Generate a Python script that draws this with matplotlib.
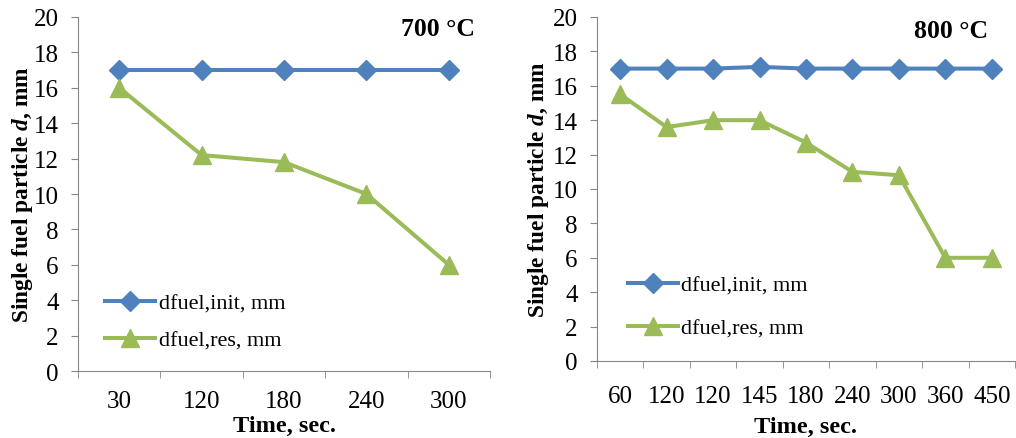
import matplotlib.pyplot as plt

plt.rcParams['font.family'] = 'Liberation Serif'
plt.rcParams['mathtext.fontset'] = 'custom'
plt.rcParams['mathtext.it'] = 'Liberation Serif:bold:italic'
plt.rcParams['mathtext.rm'] = 'Liberation Serif:bold'

# data
time_700 = ['30', '120', '180', '240', '300']
init_700 = [17, 17, 17, 17, 17]
res_700 = [16, 12.2, 11.8, 10, 6]

time_800 = ['60', '120', '120', '145', '180', '240', '300', '360', '450']
init_800 = [17, 17, 17, 17.1, 17, 17, 17, 17, 17]
res_800 = [15.5, 13.6, 14, 14, 12.7, 11, 10.8, 6, 6]

blue = '#4F81BD'
green = '#9BBB59'
axis_col = '#868686'


def draw(ax, times, init, res, leg_xy, leg_space, tick_pad, xlab_pad, ylab_pad):
    n = len(times)
    x = list(range(n))
    ax.plot(x, init, color=blue, lw=2.9, marker='D', ms=10,
            label='dfuel,init, mm')
    ax.plot(x, res, color=green, lw=2.9, marker='^', ms=12.5,
            label='dfuel,res, mm')
    ax.set_xlim(-0.5, n - 0.5)
    ax.set_ylim(0, 20)
    ax.set_yticks(range(0, 21, 2))
    ax.set_xticks(x)
    ax.set_xticklabels(times)
    ax.set_xticks([i - 0.5 for i in range(n + 1)], minor=True)
    ax.tick_params(axis='x', which='major', length=0, pad=tick_pad, labelsize=18)
    ax.tick_params(axis='x', which='minor', length=5, color=axis_col)
    ax.tick_params(axis='y', length=5, color=axis_col, labelsize=18, pad=9)
    for s in ['top', 'right']:
        ax.spines[s].set_visible(False)
    for s in ['left', 'bottom']:
        ax.spines[s].set_color(axis_col)
        ax.spines[s].set_clip_on(False)
    ax.set_ylabel('Single fuel particle $d$, mm', fontsize=16.8,
                  fontweight='bold', labelpad=ylab_pad)
    ax.set_xlabel('Time, sec.', fontsize=17.5, fontweight='bold',
                  labelpad=xlab_pad)
    for line in ax.lines:
        line.set_clip_on(False)
    ax.legend(loc='upper left', bbox_to_anchor=leg_xy, frameon=False,
              fontsize=16, handlelength=2.25, handletextpad=0.15,
              labelspacing=leg_space, borderpad=0, borderaxespad=0)
    return ax


fig = plt.figure(figsize=(10.16, 4.39), dpi=100)
ax1 = fig.add_axes([0.0768, 0.1526, 0.4055, 0.8064])
ax2 = fig.add_axes([0.5876, 0.1754, 0.4114, 0.7836])

draw(ax1, time_700, init_700, res_700, (0.066, 0.22), 0.75, 14, 2, -1)
draw(ax2, time_800, init_800, res_800, (0.074, 0.25), 1.0, 17, 6.5, 1)

fig.text(438 / 1016, 1 - 30 / 439, '700 °C', ha='center', va='center',
         fontsize=18.5, fontweight='bold')
fig.text(951 / 1016, 1 - 32 / 439, '800 °C', ha='center', va='center',
         fontsize=18.5, fontweight='bold')

fig.savefig('out.png', dpi=100)
